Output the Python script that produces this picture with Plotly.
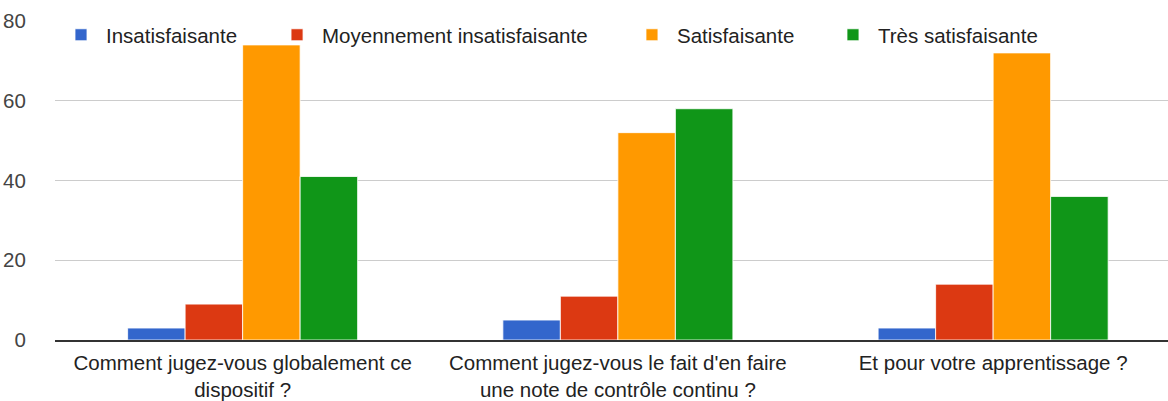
import plotly.graph_objects as go

categories = [
    "Comment jugez-vous globalement ce<br>dispositif ?",
    "Comment jugez-vous le fait d'en faire<br>une note de contrôle continu ?",
    "Et pour votre apprentissage ?",
]
series_names = ["Insatisfaisante", "Moyennement insatisfaisante", "Satisfaisante", "Très satisfaisante"]
insatisfaisante = [3, 5, 3]
moyennement = [9, 11, 14]
satisfaisante = [74, 52, 72]
tres_satisfaisante = [41, 58, 36]
y_ticks = [0, 20, 40, 60, 80]

colors = ["#3366CC", "#DC3912", "#FF9900", "#109618"]
values = [insatisfaisante, moyennement, satisfaisante, tres_satisfaisante]
legend_ids = ["legend", "legend2", "legend3", "legend4"]
legend_x = [0.0009, 0.195, 0.5139, 0.6945]

FONT = "Arial, 'Liberation Sans', sans-serif"

fig = go.Figure()
for name, vals, col, lid in zip(series_names, values, colors, legend_ids):
    fig.add_trace(go.Bar(
        x=categories, y=vals, name=name, legend=lid, showlegend=True,
        marker=dict(color=col, line=dict(color="rgba(255,255,255,0.8)", width=1)),
    ))

legend_common = dict(
    orientation="h", xanchor="left", y=1.019, yanchor="top",
    bgcolor="rgba(0,0,0,0)", font=dict(family=FONT, size=20.5, color="#222222"),
    itemwidth=40,
)
legend_layout = {lid: dict(x=lx, **legend_common) for lid, lx in zip(legend_ids, legend_x)}

fig.update_layout(
    width=1168, height=401,
    showlegend=True,
    margin=dict(l=55, r=0, t=21, b=61, autoexpand=False),
    paper_bgcolor="white", plot_bgcolor="white",
    barmode="group", bargap=0.387, bargroupgap=0.0,
    font=dict(family=FONT, size=21, color="#222222"),
    xaxis=dict(
        type="category", range=[-0.5, 2.466], automargin=False,
        showline=True, linecolor="#333333", linewidth=1.5,
        showgrid=False, ticks="outside", ticklen=4, tickcolor="rgba(0,0,0,0)",
        tickfont=dict(family=FONT, size=20.5, color="#222222"),
    ),
    yaxis=dict(
        range=[0, 80], tickvals=y_ticks, ticktext=[str(v) for v in y_ticks],
        automargin=False,
        showgrid=True, gridcolor="#cccccc", gridwidth=1.3,
        zeroline=False, showline=False,
        ticks="outside", ticklen=24, tickcolor="rgba(0,0,0,0)",
        tickfont=dict(family=FONT, size=20.5, color="#444444"),
    ),
    **legend_layout,
)

fig.write_html(
    "out.html",
    config={"displayModeBar": False},
    post_script="document.body.style.margin='0';document.body.style.overflow='hidden';",
)
